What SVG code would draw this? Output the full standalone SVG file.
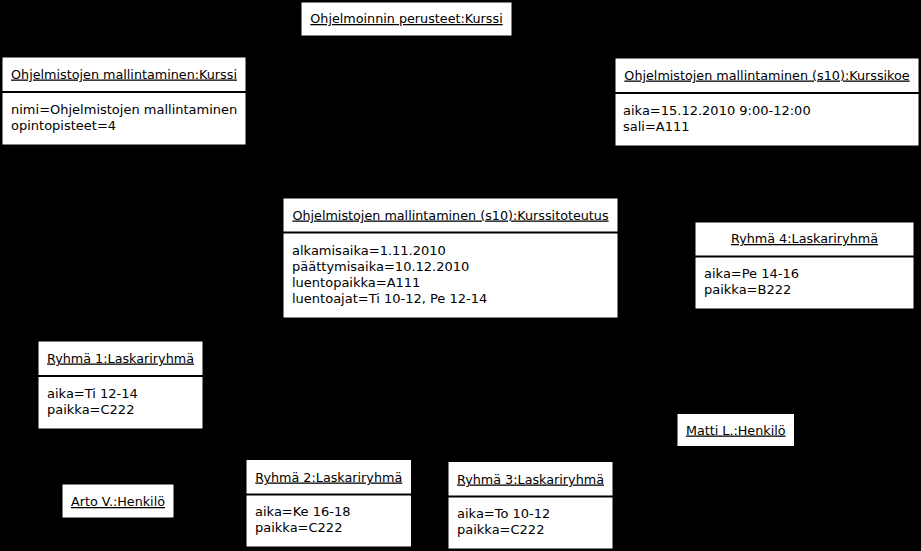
<svg xmlns="http://www.w3.org/2000/svg" width="921" height="551" viewBox="0 0 921 551">
<style>
.box{fill:#fff;stroke:#000;stroke-width:1}
.sep{stroke:#000;stroke-width:2}
text{font-family:"DejaVu Sans",sans-serif;font-size:13px;fill:#000}
.t{text-anchor:middle;text-decoration:underline;font-size:12.75px}
</style>
<rect x="0" y="0" width="921" height="551" fill="#000"/>
<g id="connectors"></g>
<g id="n1">
<rect class="box" x="301" y="2" width="211" height="34"/>
<text class="t" x="406.5" y="23">Ohjelmoinnin perusteet:Kurssi</text>
</g>
<g id="n2">
<rect class="box" x="2" y="57" width="244" height="88"/>
<line class="sep" x1="2" y1="92" x2="246" y2="92"/>
<text class="t" x="124" y="78.5">Ohjelmistojen mallintaminen:Kurssi</text>
<text x="11" y="114">nimi=Ohjelmistojen mallintaminen</text>
<text x="11" y="130">opintopisteet=4</text>
</g>
<g id="n3">
<rect class="box" x="615" y="58" width="304" height="88"/>
<line class="sep" x1="615" y1="93" x2="919" y2="93"/>
<text class="t" x="767" y="79.5">Ohjelmistojen mallintaminen (s10):Kurssikoe</text>
<text x="623" y="115">aika=15.12.2010 9:00-12:00</text>
<text x="623" y="131">sali=A111</text>
</g>
<g id="n4">
<rect class="box" x="283" y="198" width="335" height="120"/>
<line class="sep" x1="283" y1="232.5" x2="618" y2="232.5"/>
<text class="t" x="450.5" y="219.5">Ohjelmistojen mallintaminen (s10):Kurssitoteutus</text>
<text x="292" y="255">alkamisaika=1.11.2010</text>
<text x="292" y="271">päättymisaika=10.12.2010</text>
<text x="292" y="287">luentopaikka=A111</text>
<text x="292" y="303">luentoajat=Ti 10-12, Pe 12-14</text>
</g>
<g id="n5">
<rect class="box" x="695" y="222" width="219" height="87"/>
<line class="sep" x1="695" y1="256.5" x2="914" y2="256.5"/>
<text class="t" x="804.5" y="243">Ryhmä 4:Laskariryhmä</text>
<text x="704" y="277.5">aika=Pe 14-16</text>
<text x="704" y="293.5">paikka=B222</text>
</g>
<g id="n6">
<rect class="box" x="38" y="341" width="165" height="88"/>
<line class="sep" x1="38" y1="376" x2="203" y2="376"/>
<text class="t" x="120.5" y="362.5">Ryhmä 1:Laskariryhmä</text>
<text x="47" y="397.5">aika=Ti 12-14</text>
<text x="47" y="414">paikka=C222</text>
</g>
<g id="n7">
<rect class="box" x="62" y="484" width="112" height="34"/>
<text class="t" x="118" y="506">Arto V.:Henkilö</text>
</g>
<g id="n8">
<rect class="box" x="246" y="459.5" width="165.5" height="87.5"/>
<line class="sep" x1="246" y1="494.5" x2="411.5" y2="494.5"/>
<text class="t" x="328.75" y="481.5">Ryhmä 2:Laskariryhmä</text>
<text x="255" y="516">aika=Ke 16-18</text>
<text x="255" y="532">paikka=C222</text>
</g>
<g id="n9">
<rect class="box" x="448" y="461.5" width="165" height="87.5"/>
<line class="sep" x1="448" y1="496.5" x2="613" y2="496.5"/>
<text class="t" x="530.5" y="483.5">Ryhmä 3:Laskariryhmä</text>
<text x="457" y="518">aika=To 10-12</text>
<text x="457" y="534">paikka=C222</text>
</g>
<g id="n10">
<rect class="box" x="677" y="413.5" width="117.5" height="33"/>
<text class="t" x="735.75" y="434.5">Matti L.:Henkilö</text>
</g>
</svg>
